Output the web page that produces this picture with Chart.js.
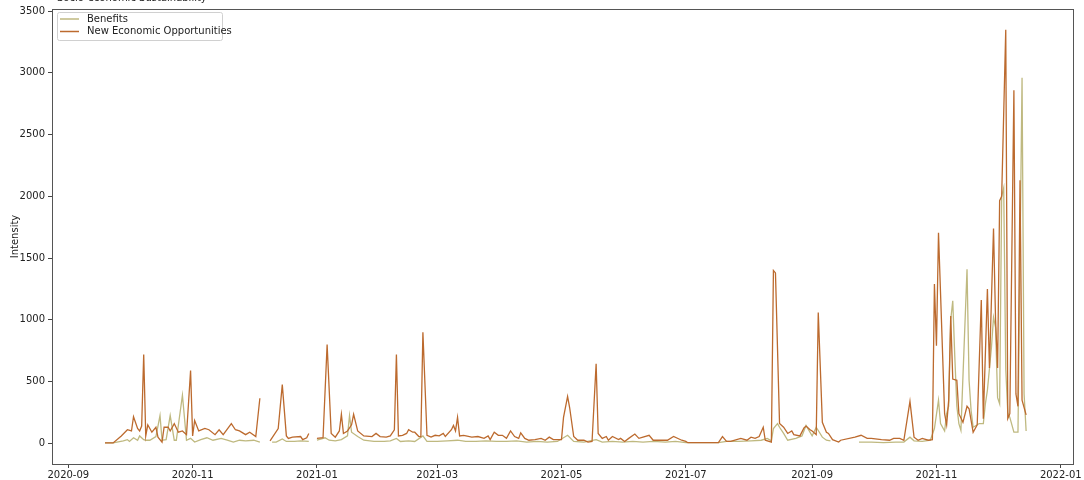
<!DOCTYPE html>
<html>
<head>
<meta charset="utf-8">
<script src="https://cdn.jsdelivr.net/npm/chart.js@4.4.0/dist/chart.umd.min.js"></script>
<style>
  html, body { margin: 0; padding: 0; background: #fff; }
  #wrap { width: 1084px; height: 480px; position: relative; }
</style>
</head>
<body>
<div id="wrap"><canvas id="chart"></canvas></div>
<script>
// values (daily intensity, gaps = null)
const chartTitle = 'Socio-economic Sustainability';
const seriesNames = ['Benefits', 'New Economic Opportunities'];
const yAxisLabel = 'Intensity';
const yTicks = [0, 500, 1000, 1500, 2000, 2500, 3000, 3500];
const xTickMonths = ['2020-09', '2020-11', '2021-01', '2021-03', '2021-05', '2021-07', '2021-09', '2021-11', '2022-01'];

const benefitsDates = [
  '2020-09-19', '2020-09-23', '2020-09-28', '2020-09-30', '2020-10-01', '2020-10-03', '2020-10-05', '2020-10-06',
  '2020-10-08', '2020-10-09', '2020-10-11', '2020-10-14', '2020-10-16', '2020-10-17', '2020-10-19', '2020-10-21',
  '2020-10-23', '2020-10-24', '2020-10-27', '2020-10-29', '2020-10-31', '2020-11-02', '2020-11-05', '2020-11-08',
  '2020-11-11', '2020-11-15', '2020-11-18', '2020-11-21', '2020-11-24', '2020-11-27', '2020-12-01', '2020-12-04',
  '2020-12-06', '2020-12-10', '2020-12-12', '2020-12-15', '2020-12-17', '2020-12-21', '2020-12-24', '2020-12-28',
  '2020-12-30', '2021-01-01', '2021-01-05', '2021-01-07', '2021-01-10', '2021-01-13', '2021-01-16', '2021-01-17',
  '2021-01-18', '2021-01-21', '2021-01-24', '2021-01-29', '2021-02-03', '2021-02-06', '2021-02-09', '2021-02-11',
  '2021-02-15', '2021-02-18', '2021-02-22', '2021-02-24', '2021-03-01', '2021-03-06', '2021-03-11', '2021-03-15',
  '2021-03-20', '2021-03-25', '2021-03-30', '2021-04-04', '2021-04-09', '2021-04-14', '2021-04-19', '2021-04-24',
  '2021-04-29', '2021-05-04', '2021-05-07', '2021-05-12', '2021-05-18', '2021-05-21', '2021-05-26', '2021-05-31',
  '2021-06-05', '2021-06-10', '2021-06-15', '2021-06-21', '2021-06-26', '2021-07-01', '2021-07-17', '2021-07-21',
  '2021-07-27', '2021-08-02', '2021-08-07', '2021-08-10', '2021-08-12', '2021-08-13', '2021-08-15', '2021-08-16',
  '2021-08-18', '2021-08-20', '2021-08-24', '2021-08-27', '2021-08-29', '2021-09-01', '2021-09-03', '2021-09-06',
  '2021-09-08', '2021-09-10', '2021-09-12', '2021-09-24', '2021-09-30', '2021-10-06', '2021-10-12', '2021-10-16',
  '2021-10-19', '2021-10-21', '2021-10-25', '2021-10-29', '2021-10-31', '2021-11-02', '2021-11-03', '2021-11-05',
  '2021-11-06', '2021-11-07', '2021-11-08', '2021-11-09', '2021-11-10', '2021-11-11', '2021-11-12', '2021-11-13',
  '2021-11-16', '2021-11-17', '2021-11-18', '2021-11-19', '2021-11-22', '2021-11-24', '2021-11-25', '2021-11-26',
  '2021-11-28', '2021-11-29', '2021-11-30', '2021-12-01', '2021-12-02', '2021-12-03', '2021-12-04', '2021-12-05',
  '2021-12-06', '2021-12-07', '2021-12-09', '2021-12-11', '2021-12-13', '2021-12-14', '2021-12-15'
];
const benefitsValues = [
  3, 3, 20, 30, 15, 45, 25, 60,
  30, 25, 25, 55, 225, 25, 30, 225,
  25, 25, 390, 25, 40, 10, 30, 45,
  25, 40, 25, 10, 25, 20, 25, 10,
  null, 10, 10, 35, 15, 15, 20, 15,
  null, 25, 45, 25, 20, 30, 60, 225,
  90, 55, 25, 15, 15, 20, 40, 15,
  20, 15, 60, 15, 15, 20, 25, 15,
  15, 20, 15, 15, 20, 10, 15, 10,
  15, 65, 15, 10, 30, 10, 15, 10,
  15, 10, 15, 10, 15, 5, 5, 15,
  15, 20, 25, 40, 20, 120, 160, 130,
  80, 25, 40, 60, 145, 60, 130, 50,
  25, 20, null, 10, 10, 5, 10, 10,
  50, 20, 15, 25, 120, 350, 160, 100,
  240, 300, 1000, 1155, 700, 300, 160, 105,
  1410, 510, 265, 130, 160, 160, 320, 430,
  780, 1020, 940, 370, 320, 2000, 2070, 600,
  250, 210, 90, 90, 2960, 400, 100
];

const neoDates = [
  '2020-09-19', '2020-09-23', '2020-09-27', '2020-09-30', '2020-10-02', '2020-10-03', '2020-10-05', '2020-10-06',
  '2020-10-07', '2020-10-08', '2020-10-09', '2020-10-10', '2020-10-11', '2020-10-12', '2020-10-14', '2020-10-15',
  '2020-10-17', '2020-10-18', '2020-10-20', '2020-10-21', '2020-10-23', '2020-10-25', '2020-10-27', '2020-10-29',
  '2020-10-31', '2020-11-01', '2020-11-02', '2020-11-04', '2020-11-07', '2020-11-09', '2020-11-12', '2020-11-14',
  '2020-11-16', '2020-11-20', '2020-11-22', '2020-11-24', '2020-11-27', '2020-11-29', '2020-12-02', '2020-12-04',
  '2020-12-06', '2020-12-09', '2020-12-13', '2020-12-15', '2020-12-17', '2020-12-18', '2020-12-20', '2020-12-24',
  '2020-12-25', '2020-12-27', '2020-12-28', '2020-12-30', '2021-01-01', '2021-01-04', '2021-01-06', '2021-01-08',
  '2021-01-10', '2021-01-12', '2021-01-13', '2021-01-14', '2021-01-16', '2021-01-18', '2021-01-19', '2021-01-21',
  '2021-01-24', '2021-01-28', '2021-01-30', '2021-02-01', '2021-02-04', '2021-02-06', '2021-02-08', '2021-02-09',
  '2021-02-10', '2021-02-12', '2021-02-14', '2021-02-15', '2021-02-17', '2021-02-18', '2021-02-20', '2021-02-21',
  '2021-02-22', '2021-02-24', '2021-02-26', '2021-02-28', '2021-03-02', '2021-03-04', '2021-03-05', '2021-03-08',
  '2021-03-09', '2021-03-10', '2021-03-11', '2021-03-12', '2021-03-14', '2021-03-18', '2021-03-21', '2021-03-24',
  '2021-03-26', '2021-03-27', '2021-03-29', '2021-03-31', '2021-04-02', '2021-04-04', '2021-04-06', '2021-04-08',
  '2021-04-10', '2021-04-11', '2021-04-13', '2021-04-15', '2021-04-18', '2021-04-21', '2021-04-23', '2021-04-25',
  '2021-04-27', '2021-05-01', '2021-05-02', '2021-05-04', '2021-05-05', '2021-05-07', '2021-05-09', '2021-05-12',
  '2021-05-14', '2021-05-16', '2021-05-18', '2021-05-19', '2021-05-21', '2021-05-23', '2021-05-24', '2021-05-26',
  '2021-05-29', '2021-05-30', '2021-06-01', '2021-06-03', '2021-06-06', '2021-06-08', '2021-06-10', '2021-06-13',
  '2021-06-15', '2021-06-18', '2021-06-22', '2021-06-25', '2021-06-29', '2021-07-01', '2021-07-02', '2021-07-17',
  '2021-07-19', '2021-07-21', '2021-07-23', '2021-07-28', '2021-07-31', '2021-08-02', '2021-08-04', '2021-08-06',
  '2021-08-08', '2021-08-09', '2021-08-12', '2021-08-13', '2021-08-14', '2021-08-16', '2021-08-18', '2021-08-20',
  '2021-08-22', '2021-08-23', '2021-08-26', '2021-08-28', '2021-08-29', '2021-08-31', '2021-09-01', '2021-09-03',
  '2021-09-04', '2021-09-06', '2021-09-08', '2021-09-09', '2021-09-11', '2021-09-14', '2021-09-15', '2021-09-22',
  '2021-09-25', '2021-09-28', '2021-09-30', '2021-10-05', '2021-10-09', '2021-10-11', '2021-10-14', '2021-10-16',
  '2021-10-19', '2021-10-21', '2021-10-23', '2021-10-25', '2021-10-28', '2021-10-30', '2021-10-31', '2021-11-01',
  '2021-11-02', '2021-11-05', '2021-11-06', '2021-11-07', '2021-11-08', '2021-11-09', '2021-11-11', '2021-11-12',
  '2021-11-14', '2021-11-16', '2021-11-17', '2021-11-19', '2021-11-21', '2021-11-23', '2021-11-24', '2021-11-26',
  '2021-11-27', '2021-11-29', '2021-11-30', '2021-12-01', '2021-12-02', '2021-12-03', '2021-12-05', '2021-12-06',
  '2021-12-07', '2021-12-09', '2021-12-10', '2021-12-11', '2021-12-12', '2021-12-13', '2021-12-15'
];
const neoValues = [
  3, 3, 60, 110, 100, 215, 120, 100,
  140, 720, 60, 150, 120, 90, 130, 50,
  10, 130, 130, 100, 160, 90, 100, 70,
  590, 60, 185, 100, 120, 110, 70, 110,
  70, 160, 110, 100, 70, 90, 55, 365,
  null, 20, 120, 475, 60, 40, 50, 55,
  30, 45, 80, null, 40, 45, 800, 80,
  50, 100, 235, 80, 100, 150, 235, 100,
  60, 55, 80, 55, 50, 60, 110, 720,
  60, 65, 80, 110, 90, 90, 55, 55,
  900, 65, 50, 65, 60, 80, 55, 110,
  145, 100, 210, 60, 65, 50, 55, 40,
  60, 30, 90, 65, 65, 40, 100, 55,
  40, 85, 40, 25, 30, 40, 25, 50,
  30, 30, 210, 380, 290, 55, 25, 25,
  10, 15, 645, 80, 40, 55, 25, 55,
  30, 40, 15, 40, 75, 40, 50, 65,
  25, 25, 25, 55, 25, 15, 5, 5,
  55, 15, 15, 40, 25, 50, 40, 55,
  130, 25, 10, 1400, 1380, 160, 130, 80,
  100, 70, 60, 125, 140, 110, 100, 70,
  1060, 170, 90, 80, 30, 10, 25, 50,
  65, 40, 40, 30, 25, 40, 40, 25,
  340, 50, 25, 40, 25, 30, 1290, 790,
  1705, 240, 150, 350, 1030, 520, 510, 240,
  170, 300, 280, 90, 150, 1160, 200, 1250,
  610, 1740, 1000, 610, 1965, 2000, 3350, 200,
  240, 2860, 400, 300, 2130, 350, 230
];

const colors = { benefits: '#bfb980', neo: '#bc6a2e' };

const dayMs = 86400000;
const baseDate = Date.parse('2021-01-01');
const dayNum = s => (Date.parse(s) - baseDate) / dayMs;
const dayLabel = v => new Date(baseDate + v * dayMs).toISOString().slice(0, 7);

const toPoints = (dates, values) => dates.map((d, i) => ({ x: dayNum(d), y: values[i] }));

// spines on all four sides, legend box top-left, clipped title at very top
const framePlugin = {
    id: 'frame',
    afterDatasetsDraw(chart) {
        const { ctx, chartArea: a } = chart;
        ctx.save();
        ctx.strokeStyle = '#555';
        ctx.lineWidth = 1;
        ctx.strokeRect(a.left + 0.5, a.top + 0.5, a.right - a.left, a.bottom - a.top);
        ctx.restore();
    },
    afterDraw(chart) {
        const { ctx } = chart;
        ctx.save();
        ctx.font = '10px "DejaVu Sans"';
        ctx.fillStyle = '#222';
        ctx.textBaseline = 'alphabetic';
        ctx.fillText(chartTitle, 57, 1);

        // legend
        const x = 57.5, y = 12.5, w = 165, h = 28;
        ctx.fillStyle = 'rgba(255,255,255,0.85)';
        ctx.strokeStyle = '#d0d0d0';
        ctx.beginPath();
        ctx.roundRect(x, y, w, h, 2);
        ctx.fill();
        ctx.stroke();
        const items = [[seriesNames[0], colors.benefits, 19], [seriesNames[1], colors.neo, 31.5]];
        ctx.textBaseline = 'middle';
        items.forEach(([label, col, ly]) => {
            ctx.strokeStyle = col;
            ctx.lineWidth = 1.5;
            ctx.beginPath();
            ctx.moveTo(60, ly);
            ctx.lineTo(79, ly);
            ctx.stroke();
            ctx.fillStyle = '#222';
            ctx.fillText(label, 87, ly);
        });
        ctx.restore();
    }
};

new Chart(document.getElementById('chart'), {
    type: 'line',
    data: {
        datasets: [
            {
                label: seriesNames[0],
                data: toPoints(benefitsDates, benefitsValues),
                borderColor: colors.benefits,
                borderWidth: 1.3,
                pointRadius: 0,
                tension: 0,
                spanGaps: false,
                order: 1
            },
            {
                label: seriesNames[1],
                data: toPoints(neoDates, neoValues),
                borderColor: colors.neo,
                borderWidth: 1.3,
                pointRadius: 0,
                tension: 0,
                spanGaps: false,
                order: 0
            }
        ]
    },
    options: {
        responsive: true,
        maintainAspectRatio: false,
        animation: false,
        layout: { padding: { left: 6, right: 11, top: 8, bottom: 0 } },
        plugins: {
            legend: { display: false },
            tooltip: { enabled: false },
            title: { display: false }
        },
        scales: {
            x: {
                type: 'linear',
                min: dayNum('2020-08-24'),
                max: dayNum('2022-01-07'),
                afterBuildTicks: scale => {
                    scale.ticks = xTickMonths.map(m => ({ value: dayNum(m + '-01') }));
                },
                afterFit: scale => { scale.height = 16; },
                border: { display: false },
                grid: { drawOnChartArea: false, drawTicks: true, tickLength: 4, color: '#444' },
                ticks: {
                    autoSkip: false,
                    maxRotation: 0,
                    padding: 1,
                    color: '#222',
                    font: { family: 'DejaVu Sans', size: 10 },
                    callback: v => dayLabel(v)
                }
            },
            y: {
                min: -167.5,
                max: 3517.5,
                afterBuildTicks: scale => {
                    scale.ticks = yTicks.map(v => ({ value: v }));
                },
                afterFit: scale => { scale.width = 46; },
                border: { display: false },
                grid: { drawOnChartArea: false, drawTicks: true, tickLength: 4, color: '#444' },
                title: {
                    display: true,
                    text: yAxisLabel,
                    color: '#222',
                    padding: { top: 3, bottom: 0 },
                    font: { family: 'DejaVu Sans', size: 10 }
                },
                ticks: {
                    padding: 3,
                    color: '#222',
                    font: { family: 'DejaVu Sans', size: 10 },
                    callback: v => String(v)
                }
            }
        }
    },
    plugins: [framePlugin]
});
</script>
</body>
</html>
